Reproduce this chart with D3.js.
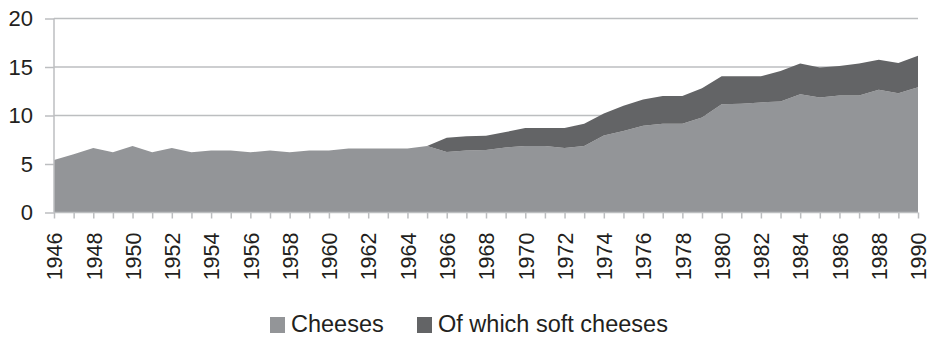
<!DOCTYPE html>
<html lang="en">
<head>
    <meta charset="UTF-8">
    <title>Cheeses</title>
    <script src="https://d3js.org/d3.v7.min.js"></script>
    <style>
        body, html { margin: 0; padding: 0; background: #fff; font-family: Arial, "Liberation Sans", sans-serif; }
        svg text { fill: #231f20; }
        .grid line { stroke: #bcbec0; stroke-width: 1.5px; }
    </style>
</head>
<body>
    <div id="chart"></div>

    <script>
    const years = [1946, 1947, 1948, 1949, 1950, 1951, 1952, 1953, 1954, 1955,
        1956, 1957, 1958, 1959, 1960, 1961, 1962, 1963, 1964, 1965,
        1966, 1967, 1968, 1969, 1970, 1971, 1972, 1973, 1974, 1975,
        1976, 1977, 1978, 1979, 1980, 1981, 1982, 1983, 1984, 1985,
        1986, 1987, 1988, 1989, 1990];
    const cheeses = [5.4, 6.0, 6.65, 6.2, 6.85, 6.2, 6.65, 6.2, 6.4, 6.4,
        6.2, 6.4, 6.2, 6.4, 6.4, 6.6, 6.6, 6.6, 6.6, 6.85,
        6.25, 6.4, 6.45, 6.7, 6.85, 6.85, 6.65, 6.85, 7.95, 8.4,
        8.95, 9.15, 9.15, 9.8, 11.15, 11.2, 11.35, 11.45, 12.2, 11.85,
        12.05, 12.05, 12.65, 12.3, 12.9];
    const softCheeses = [0, 0, 0, 0, 0, 0, 0, 0, 0, 0,
        0, 0, 0, 0, 0, 0, 0, 0, 0, 0,
        1.45, 1.45, 1.45, 1.6, 1.85, 1.85, 2.05, 2.3, 2.25, 2.6,
        2.7, 2.85, 2.85, 3.0, 2.9, 2.85, 2.7, 3.15, 3.15, 3.1,
        3.05, 3.3, 3.1, 3.1, 3.25];
    const yTicks = [0, 5, 10, 15, 20];
    const seriesNames = ["Cheeses", "Of which soft cheeses"];
    const colors = ["#939598", "#636466"];

    const width = 933, height = 338;
    const svg = d3.select("#chart").append("svg")
        .attr("width", width)
        .attr("height", height);

    const x = d3.scaleLinear().domain([1946, 1990]).range([54, 918]);
    const y = d3.scaleLinear().domain([0, 20]).range([212.5, 18.5]);

    // gridlines
    svg.append("g").attr("class", "grid")
        .selectAll("line").data(yTicks.filter(d => d > 0)).enter().append("line")
        .attr("x1", x(1946)).attr("x2", x(1990))
        .attr("y1", d => y(d)).attr("y2", d => y(d));

    // stacked areas
    const table = years.map((yr, i) => ({ year: yr, cheeses: cheeses[i], soft: softCheeses[i] }));
    const stack = d3.stack().keys(["cheeses", "soft"]);
    const layers = stack(table);

    const area = d3.area()
        .x(d => x(d.data.year))
        .y0(d => y(d[0]))
        .y1(d => y(d[1]));

    svg.selectAll(".layer").data(layers).enter().append("path")
        .attr("class", "layer")
        .attr("fill", (d, i) => colors[i])
        .attr("d", area);

    // y axis
    const yAxis = svg.append("g")
        .attr("transform", `translate(${x(1946)},0)`)
        .call(d3.axisLeft(y).tickValues(yTicks).tickSize(9).tickPadding(12));
    yAxis.selectAll("line, path").attr("stroke", "#bcbec0").attr("stroke-width", 1.5);
    yAxis.select(".domain").attr("d", `M0,${y(0)}V${y(20)}`);
    yAxis.selectAll("text").style("font-size", "22px").style("font-family", "Arial, 'Liberation Sans', sans-serif");

    // x axis: tick every year, label every other year
    const xAxis = svg.append("g")
        .attr("transform", `translate(0,${y(0)})`)
        .call(d3.axisBottom(x).tickValues(years).tickSize(6)
            .tickFormat(d => (d - 1946) % 2 === 0 ? String(d) : ""));
    xAxis.selectAll("line, path").attr("stroke", "#bcbec0").attr("stroke-width", 1.5);
    xAxis.select(".domain").attr("d", `M${x(1946)},0H${x(1990)}`);
    xAxis.selectAll("text")
        .style("font-size", "21.5px")
        .style("font-family", "Arial, 'Liberation Sans', sans-serif")
        .attr("text-anchor", "end")
        .attr("transform", "rotate(-90)")
        .attr("x", -20)
        .attr("y", 0)
        .attr("dy", "0.36em");

    // legend
    const legendX = [270, 417];
    const legend = svg.selectAll(".legend").data(seriesNames).enter().append("g")
        .attr("class", "legend")
        .attr("transform", (d, i) => `translate(${legendX[i]},317)`);
    legend.append("rect")
        .attr("width", 15).attr("height", 16)
        .attr("fill", (d, i) => colors[i]);
    legend.append("text")
        .attr("x", 21).attr("y", 15)
        .style("font-size", "23.5px")
        .text(d => d);
    </script>
</body>
</html>
